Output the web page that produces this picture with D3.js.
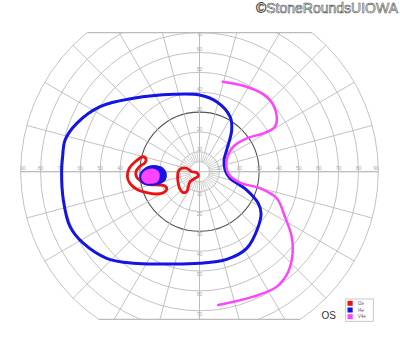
<!DOCTYPE html>
<html><head><meta charset="utf-8">
<script src="https://d3js.org/d3.v7.min.js"></script>
<style>
  body { margin: 0; background: #fff; }
  svg { display: block; }
</style>
</head>
<body>
<svg width="400" height="352"></svg>
<script>
// ---- data (meridian in degrees counter-clockwise from right, eccentricity in degrees) ----
const ringDegrees = [10, 20, 30, 40, 50, 60, 70, 80, 90];
const meridians = d3.range(0, 360, 15);
const innerMeridians = d3.range(0, 360, 7.5);
const axisLabels = [10, 20, 30, 40, 50, 60, 70, 80, 90];
const vertLabels = [10, 20, 30, 40, 50, 60, 70];
const legendNames = ["I2e", "I4e", "V4e"];
const legendColors = ["#ee1111", "#1414e6", "#ff44ff"];

// I4e outer isopter (closed)
const i4eOuter = [[90,38.6],[76.2,36.3],[61,31.7],[52.3,26.5],[38.6,17.5],[25.5,13.7],[3.8,12.9],
  [347.8,15.7],[338.8,25.5],[331.7,33.6],[325.9,37.4],[316.9,40.5],[301.6,45.3],[287.2,46.2],
  [270,46.1],[250.4,49.3],[234.1,56.9],[223,63.9],[211.6,68.7],[203,70.8],[191.7,70],[180,69.4],
  [173.7,69.3],[166.7,69.5],[158.5,66.4],[146.8,59.8],[132,49.7],[108.7,41.1]];
// I4e central island (filled)
const i4eIsland = [[178.3,28.3],[174.4,25.9],[172.4,21.7],[174.7,18.6],[182.7,16.9],[193.5,17.9],
  [196.4,20.7],[195.5,25],[191.7,28.9],[186.3,30.1],[181.6,29.6]];
// V4e central island (filled)
const v4eIsland = [[181.6,28.6],[178.2,26.6],[176.7,23.3],[180,20.7],[187.1,20.4],[193.3,21.8],
  [193.6,24.8],[191.4,28],[186.5,29.3]];
// V4e temporal border (open)
const v4eOuter = [[75.5,46.8],[61,48.9],[48.1,50.7],[38.1,48.9],[30.8,44.2],[31,37.5],[35.3,29.1],
  [36.5,21.2],[23.3,14.9],[-3.2,14.5],[-15.2,21.1],[-15.3,31.6],[-19,41.1],[-27.8,48.6],
  [-35.2,56.8],[-41.2,62.3],[-48.4,67.3],[-56.1,69.7],[-66.7,68.5],[-82,67.8]];
// I2e islands (closed)
const i2eLeft = [[165.1,29.3],[171.2,32.8],[177.2,35.4],[184,36.4],[189.5,35.5],[195.7,32.8],
  [201.7,28.6],[207.5,24.3],[210.1,21.1],[208.2,18.7],[202.5,18.8],[197.9,21.8],[194.7,25.8],
  [189.8,29.5],[185.1,31.7],[180,32],[175.3,30.4],[170.6,27.8],[166.6,27.7]];
const i2eRight = [[180,10.7],[169.2,9.1],[165.1,6.7],[180,3.9],[199.7,1.5],[254.4,2.3],[235.7,4],
  [226.5,6.9],[233.3,9.4],[237.4,11.9],[232.4,13.3],[222.1,13.2],[208.7,12.2],[192.9,11.3]];

const topLimit = 70, bottomLimit = 74.3;

// ---- setup ----
const svg = d3.select("svg");
const cx = 199.5, cy = 171.7;
const r = d3.scaleLinear().domain([0, 90]).range([0, 178.8]);
const rad = a => a * Math.PI / 180;

svg.append("defs").append("clipPath").attr("id", "field")
  .append("rect")
  .attr("x", -r(90) - 2).attr("y", -r(topLimit))
  .attr("width", 2 * r(90) + 4).attr("height", r(topLimit) + r(bottomLimit));

const g = svg.append("g").attr("transform", `translate(${cx},${cy})`);
const grid = g.append("g").attr("clip-path", "url(#field)");

// rings
grid.selectAll("circle.ring").data(ringDegrees).join("circle")
  .attr("class", "ring")
  .attr("r", d => r(d))
  .attr("fill", "none")
  .attr("stroke", d => d === 30 ? "#555" : "#bbb")
  .attr("stroke-width", d => d === 30 ? 1.1 : 0.9);
grid.append("circle").attr("r", r(5)).attr("fill", "none").attr("stroke", "#bbb").attr("stroke-width", 0.8);

// spokes
grid.selectAll("line.spoke").data(meridians).join("line")
  .attr("class", "spoke")
  .attr("x1", d => r(10) * Math.cos(rad(d))).attr("y1", d => -r(10) * Math.sin(rad(d)))
  .attr("x2", d => r(90) * Math.cos(rad(d))).attr("y2", d => -r(90) * Math.sin(rad(d)))
  .attr("stroke", "#bbb").attr("stroke-width", 0.9);
grid.selectAll("line.inner").data(innerMeridians).join("line")
  .attr("class", "inner")
  .attr("x1", d => r(5) * Math.cos(rad(d))).attr("y1", d => -r(5) * Math.sin(rad(d)))
  .attr("x2", d => r(10) * Math.cos(rad(d))).attr("y2", d => -r(10) * Math.sin(rad(d)))
  .attr("stroke", "#bbb").attr("stroke-width", 0.7);
// axes
grid.append("line").attr("x1", -r(90)).attr("x2", r(90)).attr("stroke", "#bbb").attr("stroke-width", 1);
grid.append("line").attr("y1", -r(90)).attr("y2", r(90)).attr("stroke", "#bbb").attr("stroke-width", 1);

// top and bottom borders
[[-r(topLimit), topLimit], [r(bottomLimit), bottomLimit]].forEach(([y, lim]) => {
  const hw = r(Math.sqrt(90 * 90 - lim * lim));
  g.append("line").attr("x1", -hw).attr("x2", hw).attr("y1", y).attr("y2", y)
    .attr("stroke", "#bbb").attr("stroke-width", 1.2);
});

// axis labels
const lab = g.append("g").attr("font-family", "Liberation Sans, Arial, sans-serif")
  .attr("font-size", 5).attr("fill", "#aaa").attr("text-anchor", "middle");
axisLabels.forEach(d => {
  const off = d === 90 ? 2.3 : 0;
  lab.append("text").attr("x", -r(d) + off).attr("y", -1.5).text(d);
  lab.append("text").attr("x", r(d) - off).attr("y", -1.5).text(d);
});
vertLabels.forEach(d => {
  const yt = Math.max(-r(d) - 3, -r(topLimit) + 2);
  lab.append("text").attr("x", 0).attr("y", yt + 1.8).text(d);
  lab.append("text").attr("x", 0).attr("y", r(d) + 3 + 1.8).text(d);
});

// isopters
const closed = d3.lineRadial()
  .angle(d => rad(90 - d[0])).radius(d => r(d[1]))
  .curve(d3.curveCatmullRomClosed.alpha(0.5));
const open = d3.lineRadial()
  .angle(d => rad(90 - d[0])).radius(d => r(d[1]))
  .curve(d3.curveCatmullRom.alpha(0.5));

[i2eLeft, i2eRight].forEach(p => {
  g.append("path").attr("d", closed(p)).attr("fill", "none")
    .attr("stroke", legendColors[0]).attr("stroke-width", 2.8).attr("stroke-linejoin", "round");
});
g.append("path").attr("d", closed(i4eOuter)).attr("fill", "none")
  .attr("stroke", legendColors[1]).attr("stroke-width", 3).attr("stroke-linejoin", "round");
g.append("path").attr("d", closed(i4eIsland)).attr("fill", legendColors[1])
  .attr("stroke", legendColors[1]).attr("stroke-width", 1.5);
g.append("path").attr("d", closed(v4eIsland)).attr("fill", legendColors[2])
  .attr("stroke", legendColors[2]).attr("stroke-width", 0.8);
g.append("path").attr("d", open(v4eOuter)).attr("fill", "none")
  .attr("stroke", legendColors[2]).attr("stroke-width", 2.5).attr("stroke-linecap", "round");

// legend
const leg = svg.append("g").attr("transform", "translate(345.7,299)");
leg.append("rect").attr("width", 27.6).attr("height", 22.3)
  .attr("fill", "#fff").attr("stroke", "#bbb").attr("stroke-width", 0.8);
legendNames.forEach((n, i) => {
  leg.append("rect").attr("x", 1.8).attr("y", 1.8 + i * 6.7).attr("width", 5.2).attr("height", 5)
    .attr("fill", legendColors[i]);
  leg.append("text").attr("x", 12).attr("y", 5.8 + i * 6.7)
    .attr("font-family", "Liberation Sans, Arial, sans-serif").attr("font-size", 4.6)
    .attr("fill", "#666").text(n);
});

svg.append("text").attr("x", 321.5).attr("y", 319.4)
  .attr("font-family", "Liberation Sans, Arial, sans-serif").attr("font-size", 10)
  .attr("fill", "#333").text("OS");

svg.append("text").attr("x", 398).attr("y", 13.4).attr("text-anchor", "end")
  .attr("font-family", "Liberation Sans, Arial, sans-serif").attr("font-size", 14)
  .attr("fill", "#ffffff").attr("stroke", "#444").attr("stroke-width", 0.55)
  .text("©StoneRoundsUIOWA");
</script>
</body></html>
